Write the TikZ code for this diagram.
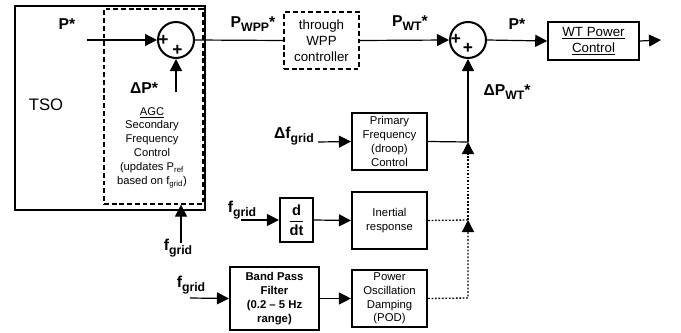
\documentclass[tikz,border=0pt]{standalone}
\usepackage{fontspec}
\setmainfont{Liberation Sans}
\usepackage{tikz}
\usetikzlibrary{arrows.meta,positioning,calc}

\newcommand{\lowsub}[1]{\raisebox{-0.45ex}{\fontsize{9.2}{10}\selectfont #1}}

\begin{document}
\begin{tikzpicture}[
  x=0.75pt, y=-0.75pt,
  blk/.style={draw, line width=1.6pt, align=center, inner sep=1pt, font=\fontsize{8.5}{10.3}\selectfont},
  dbox/.style={draw, dashed, dash pattern=on 3.6pt off 2.2pt, line width=1pt, align=center, inner sep=1pt},
  sum/.style={circle, draw, line width=1.5pt, minimum size=27pt, inner sep=0pt},
  sig/.style={-{Triangle[length=9pt, width=9pt]}, line width=0.9pt},
  wire/.style={line width=0.9pt},
  dots/.style={line width=1pt, dash pattern=on 1.3pt off 1.3pt},
  lbl/.style={font=\fontsize{11.8}{13}\selectfont\bfseries, inner sep=0pt},
  plus/.style={font=\fontsize{13}{14}\selectfont\bfseries, inner sep=0pt}
]
\useasboundingbox (0,0) rectangle (681,332);

% TSO with AGC part
\node[draw, line width=1.4pt, minimum width=142.5pt, minimum height=153pt] (tso) at (110,108) {};
\node[font=\fontsize{12.5}{14}\selectfont, inner sep=0pt] (tsotxt) at (46,105) {TSO};
\node[dbox, minimum width=74.25pt, minimum height=146.25pt] (agc) at (153.5,106.5) {};
\node[align=center, inner sep=0pt, font=\fontsize{8.4}{10.35}\selectfont] (agctxt) at (152,147.5)
  {\underline{AGC}\\Secondary\\Frequency\\Control\\(updates P\textsubscript{ref}\\based on f\textsubscript{grid})};

% first summing point
\node[sum] (sum1) at (176,40) {};
\node[plus] (p1a) at (163.5,40.5) {+};
\node[plus] (p1b) at (177.5,50) {+};
\coordinate (pin) at (87,40);
\coordinate (dpin) at (176,92);
\node[lbl] (pstar) at (67,24) {P*};
\node[lbl] (dpstar) at (144,88) {ΔP*};
\draw[sig] (pin) -- (sum1.west);
\draw[sig] (dpin) -- (sum1.south);

% grid frequency into AGC
\coordinate (fagc) at (181,243);
\node[lbl] (fgrid1) at (178,248) {f\lowsub{grid}};
\draw[sig] (fagc) -- (fagc |- agc.south);

% WPP controller
\node[dbox, minimum width=56.25pt, minimum height=42.75pt, font=\fontsize{10}{12}\selectfont] (wpp) at (321.5,40.5) {through\\WPP\\controller};
\node[lbl] (pwpp) at (253,24) {P\lowsub{WPP}*};
\draw[wire] (sum1.east) -- (wpp.west);

% second summing point
\node[sum] (sum2) at (468,40) {};
\node[plus] (p2a) at (456,39) {+};
\node[plus] (p2b) at (468,48.5) {+};
\node[lbl] (pwt) at (410,23) {P\lowsub{WT}*};
\draw[sig] (wpp.east) -- (sum2.west);

% WT power control
\node[draw, line width=1.2pt, minimum width=68.25pt, minimum height=28.5pt, align=center,
      font=\fontsize{10}{12}\selectfont, inner sep=1pt] (wt) at (593.5,41) {\underline{WT Power}\\\underline{Control}};
\node[lbl] (pstar2) at (517,24) {P*};
\coordinate (pout) at (661,40);
\draw[sig] (sum2.east) -- (wt.west);
\draw[sig] (wt.east) -- (pout);

% primary frequency control
\node[blk, minimum width=56.25pt, minimum height=42.75pt] (prim) at (389.5,141.5) {Primary\\Frequency\\(droop)\\Control};
\coordinate (dfin) at (318,142);
\node[lbl] (dfgrid) at (294,136) {Δf\lowsub{grid}};
\draw[sig] (dfin) -- (prim.west);
\coordinate (j1) at (468,142);
\node[lbl] (dpwt) at (507,92) {ΔP\lowsub{WT}*};
\draw[wire] (prim.east) -- (j1);
\draw[sig] (j1) -- (sum2.south);

% inertial response
\node[blk, minimum width=24.75pt, minimum height=33pt, font=\fontsize{11}{12}\selectfont] (ddt) at (296.5,220) {$\displaystyle\frac{\textbf{d}}{\textbf{dt}}$};
\node[blk, minimum width=56.25pt, minimum height=42.75pt] (iner) at (389.5,220.5) {Inertial\\response};
\coordinate (fin2) at (241,220);
\node[lbl] (fgrid2) at (242,210) {f\lowsub{grid}};
\draw[sig] (fin2) -- (ddt.west);
\draw[sig] (ddt.east) -- (iner.west);
\coordinate (j2) at (468,220);
\draw[dots] (iner.east) -- (j2);
\draw[dots, -{Triangle[length=9pt, width=9pt]}] (j2) -- (j1);

% power oscillation damping
\node[blk, minimum width=66.75pt, minimum height=47.25pt, font=\fontsize{8.5}{10.3}\selectfont\bfseries] (bpf) at (274.5,298.5) {Band Pass\\Filter\\(0.2 -- 5 Hz\\range)};
\node[blk, minimum width=56.25pt, minimum height=42.75pt] (pod) at (389.5,298.5) {Power\\Oscillation\\Damping\\(POD)};
\coordinate (fin3) at (190,298);
\node[lbl] (fgrid3) at (191,285) {f\lowsub{grid}};
\draw[sig] (fin3) -- (bpf.west);
\draw[sig] (bpf.east) -- (pod.west);
\coordinate (c3) at (468,298);
\draw[dots, -{Triangle[length=9pt, width=9pt]}] (pod.east) -- (c3) -- (j2);

\end{tikzpicture}
\end{document}
